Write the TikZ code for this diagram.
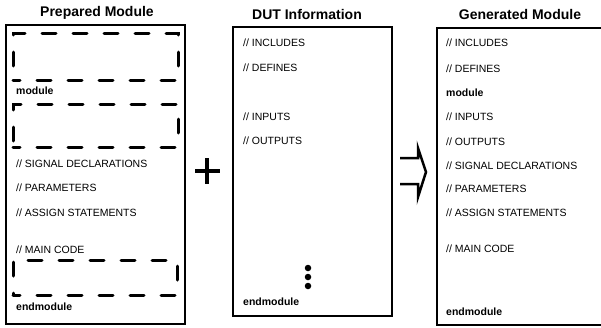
\documentclass[tikz,border=0pt]{standalone}
\usepackage{fontspec}
\setmainfont{Liberation Sans}
\usepackage{tikz}
\usetikzlibrary{positioning}

\begin{document}
\begin{tikzpicture}[x=1pt, y=-1pt,
  box/.style={draw, line width=1.8pt, inner sep=0pt},
  slot/.style={draw, line width=3pt, line cap=round, dash pattern=on 14pt off 17pt, dash phase=7pt},
  title/.style={font=\fontsize{14}{16}\selectfont\bfseries},
  txt/.style={anchor=west, inner sep=0pt, font=\fontsize{10.5}{12}\selectfont},
  kw/.style={txt, font=\fontsize{10.5}{12}\selectfont\bfseries},
  dot/.style={circle, fill, inner sep=0pt, minimum size=6.5pt}]

\useasboundingbox (0,0) rectangle (601,327);

% titles
\node[title] (t_prep) at (97,13) {Prepared Module};
\node[title] (t_dut) at (307,14) {DUT Information};
\node[title] (t_gen) at (520,14) {Generated Module};

% boxes
\node[box, minimum width=179pt, minimum height=299pt] (prep) at (95.5,174.5) {};
\node[box, minimum width=159pt, minimum height=289pt] (dut) at (312.5,171.5) {};
\node[box, minimum width=166pt, minimum height=297pt] (gen) at (520,176.5) {};

% prepared module
\node[slot, minimum width=165pt, minimum height=47pt] (hole_1) at (95.5,56.5) {};
\node[kw] (p_mod) at (16,91) {module};
\node[slot, minimum width=165pt, minimum height=43pt] (hole_2) at (95.5,125.5) {};
\node[txt] (p_sig) at (16,164) {// SIGNAL DECLARATIONS};
\node[txt] (p_par) at (16,188) {// PARAMETERS};
\node[txt] (p_asg) at (16,213) {// ASSIGN STATEMENTS};
\node[txt] (p_main) at (16,250) {// MAIN CODE};
\node[slot, minimum width=164pt, minimum height=35pt] (hole_3) at (95,277.5) {};
\node[kw] (p_end) at (16,307) {endmodule};

% dut information
\node[txt] (d_inc) at (243,43) {// INCLUDES};
\node[txt] (d_def) at (243,68) {// DEFINES};
\node[txt] (d_in) at (243,117) {// INPUTS};
\node[txt] (d_out) at (243,141) {// OUTPUTS};
\node[dot] (dot_1) at (308,268) {};
\node[dot] (dot_2) at (308,277) {};
\node[dot] (dot_3) at (308,286) {};
\node[kw] (d_end) at (243,302) {endmodule};

% generated module
\node[txt] (g_inc) at (446,43) {// INCLUDES};
\node[txt] (g_def) at (446,69) {// DEFINES};
\node[kw] (g_mod) at (446,93) {module};
\node[txt] (g_in) at (446,117) {// INPUTS};
\node[txt] (g_out) at (446,142) {// OUTPUTS};
\node[txt] (g_sig) at (446,166) {// SIGNAL DECLARATIONS};
\node[txt] (g_par) at (446,189) {// PARAMETERS};
\node[txt] (g_asg) at (446,213) {// ASSIGN STATEMENTS};
\node[txt] (g_main) at (446,249) {// MAIN CODE};
\node[kw] (g_end) at (446,312) {endmodule};

% plus and arrow
\draw[line width=4pt] (195,171) -- (220,171) (207,158) -- (207,184);
\draw[line width=2.5pt, line join=miter]
  (400,158) -- (418,158) -- (418,148) -- (426,172) -- (418,197) -- (418,184) -- (400,184);

\end{tikzpicture}
\end{document}
